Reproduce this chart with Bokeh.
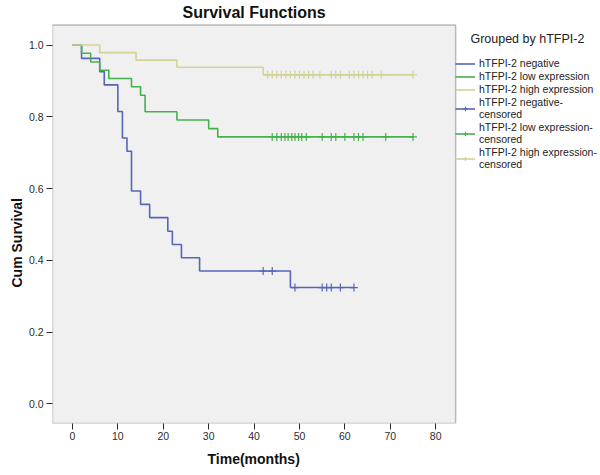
import numpy as np
from bokeh.plotting import figure
from bokeh.models import (Range1d, FixedTicker, NumeralTickFormatter, Legend, LegendItem,
                          Label, Title, BoxAnnotation)
from bokeh.embed import file_html
from bokeh.resources import INLINE

# ---- data ----
neg_times = [0, 2, 6, 7, 10, 11, 12, 13, 15, 17, 21, 22, 24, 28, 48]
neg_surv = [1.0, 0.963, 0.926, 0.889, 0.815, 0.741, 0.704, 0.593, 0.556, 0.519, 0.481, 0.444, 0.407, 0.370, 0.324]
neg_cens = [42, 44, 49, 55, 56, 57, 59, 62]

low_times = [0, 2, 4, 6, 8, 13, 15, 16, 23, 30, 32]
low_surv = [1.0, 0.977, 0.953, 0.930, 0.907, 0.884, 0.860, 0.814, 0.791, 0.767, 0.744]
low_cens = [44, 45, 46, 46.8, 47.5, 48.3, 49, 49.8, 50.5, 51.5, 55, 57, 58, 60, 62, 63, 64, 69, 75]

high_times = [0, 6, 14, 23, 42]
high_surv = [1.0, 0.979, 0.958, 0.938, 0.917]
high_cens = [43, 44, 45, 46, 47, 48, 49, 50, 51, 52, 53, 54.5, 57, 58, 59, 61, 62, 63, 64, 65, 66, 68, 75]

x_ticks = [0, 10, 20, 30, 40, 50, 60, 70, 80]
y_ticks = [0.0, 0.2, 0.4, 0.6, 0.8, 1.0]

groups = ["hTFPI-2 negative", "hTFPI-2 low expression", "hTFPI-2 high expression"]
colors = ["#5466b8", "#45b14c", "#d6d197"]

FONT = "Liberation Sans"

# plot-area (gray box) limits in data units
BOX_X0, BOX_X1 = -4.4, 84.4
BOX_Y0, BOX_Y1 = -0.055, 1.056

W, H = 598, 473
LEFT, BOTTOM = 52, 50
PX_X = 4.54                      # pixels per month
PX_Y = 358.7                     # pixels per unit survival
x_max = BOX_X0 + (W - LEFT) / PX_X
y_max = BOX_Y0 + (H - BOTTOM) / PX_Y

p = figure(width=W, height=H,
           x_range=Range1d(BOX_X0, x_max), y_range=Range1d(BOX_Y0, y_max),
           output_backend="svg", toolbar_location=None,
           min_border_left=LEFT, min_border_right=0, min_border_top=0, min_border_bottom=BOTTOM,
           background_fill_color="white", border_fill_color="white",
           outline_line_color=None)
p.grid.visible = False

p.add_layout(BoxAnnotation(left=BOX_X0, right=BOX_X1, bottom=BOX_Y0, top=BOX_Y1,
                           fill_color="#f0f0f0", fill_alpha=1.0,
                           line_color="#2b2b2b", line_width=1.5, level="underlay"))

# axes
for ax in (p.xaxis[0], p.yaxis[0]):
    ax.axis_line_color = None
    ax.major_tick_line_color = "#2b2b2b"
    ax.major_tick_out = 6
    ax.major_tick_in = 0
    ax.minor_tick_line_color = None
    ax.major_label_text_font = FONT
    ax.major_label_text_font_size = "10.5px"
    ax.major_label_text_color = "#2b2b2b"
    ax.major_label_standoff = 3
p.xaxis.major_label_standoff = 2

p.xaxis.ticker = FixedTicker(ticks=x_ticks)
p.yaxis.ticker = FixedTicker(ticks=y_ticks)
p.yaxis.formatter = NumeralTickFormatter(format="0.0")

p.add_layout(Title(text="Time(months)", align="left", offset=155, standoff=12,
                   text_font=FONT, text_font_size="14px", text_font_style="bold",
                   text_color="#111111"), "below")
p.add_layout(Title(text="Cum Survival", align="left", offset=136, standoff=2,
                   text_font=FONT, text_font_size="14px", text_font_style="bold",
                   text_color="#111111"), "left")


def step_series(times, surv, cens):
    xs = list(times) + [max(cens)]
    ys = list(surv) + [surv[-1]]
    idx = np.searchsorted(np.array(times), np.array(cens), side="right") - 1
    cy = [surv[i] for i in idx]
    return xs, ys, cy


line_rs, cross_rs = [], []
for times, surv, cens, col in ((neg_times, neg_surv, neg_cens, colors[0]),
                               (low_times, low_surv, low_cens, colors[1]),
                               (high_times, high_surv, high_cens, colors[2])):
    xs, ys, cy = step_series(times, surv, cens)
    lr = p.step(xs, ys, mode="after", line_color=col, line_width=1.6)
    cr = p.scatter(cens, cy, marker="cross", size=8, line_color=col, line_width=1.2)
    line_rs.append(lr)
    cross_rs.append(cr)

items = [LegendItem(label=groups[i], renderers=[line_rs[i]]) for i in range(3)]
items += [LegendItem(label=groups[i] + "-\ncensored", renderers=[line_rs[i], cross_rs[i]]) for i in range(3)]

legend = Legend(items=items, location=(403, 253), margin=0, padding=0,
                background_fill_alpha=0, border_line_color=None,
                label_text_font=FONT, label_text_font_size="10.5px", label_text_color="#222222",
                label_text_line_height=1.0,
                glyph_width=20, glyph_height=11, label_height=11, label_standoff=4, spacing=1)
p.add_layout(legend)

p.add_layout(Label(x=(BOX_X0 + BOX_X1) / 2, y=1.091, text="Survival Functions",
                   text_align="center", text_baseline="middle",
                   text_font=FONT, text_font_size="16px", text_font_style="bold", text_color="#111111"))
p.add_layout(Label(x=100.2, y=1.017, text="Grouped by hTFPI-2", text_align="center", text_baseline="middle",
                   text_font=FONT, text_font_size="12.5px", text_color="#222222"))

open("out.html", "w").write(file_html(p, INLINE))
